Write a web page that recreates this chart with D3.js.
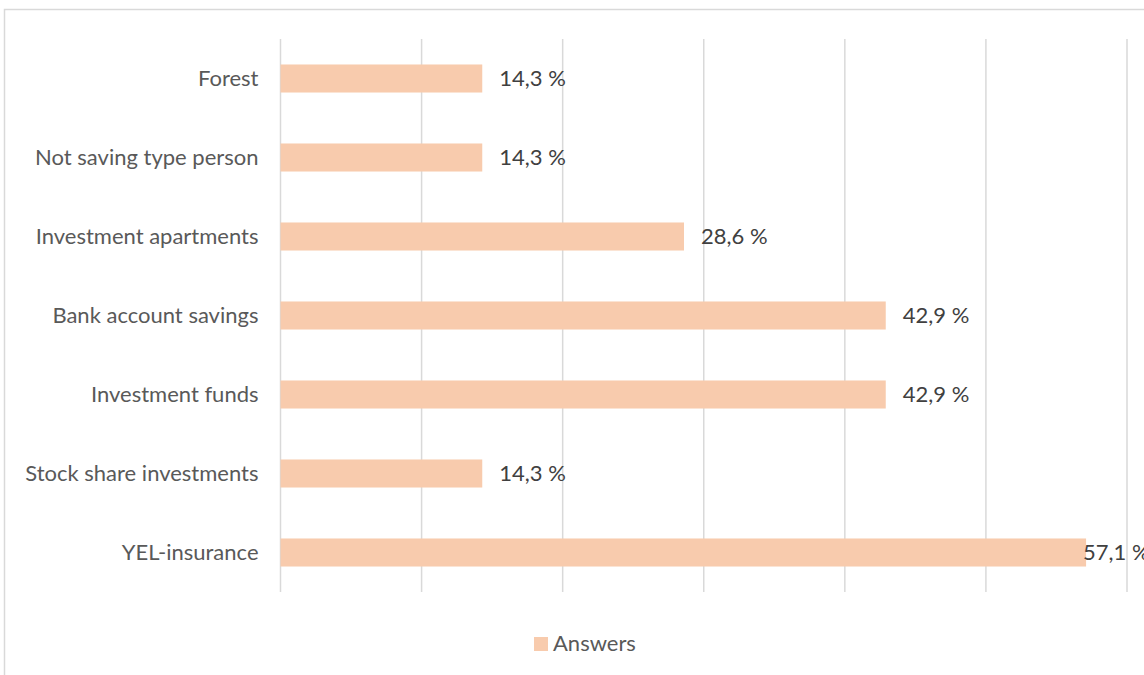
<!DOCTYPE html>
<html>
<head>
<meta charset="utf-8">
<script src="https://cdn.jsdelivr.net/npm/d3@7"></script>
<style>
  html, body { margin: 0; padding: 0; background: #fff; }
  svg { display: block; }
  text { font-family: Lato, "Open Sans", sans-serif; }
</style>
</head>
<body>
<svg id="chart" width="1144" height="675"></svg>
<script>
// Savings categories, top to bottom
const categories = [
  "Forest",
  "Not saving type person",
  "Investment apartments",
  "Bank account savings",
  "Investment funds",
  "Stock share investments",
  "YEL-insurance"
];
// Share of answers, percent
const answers = [14.3, 14.3, 28.6, 42.9, 42.9, 14.3, 57.1];
const gridTicks = [0, 10, 20, 30, 40, 50, 60];
const seriesName = "Answers";

const W = 1144, H = 675;
const FS = 22;
const svg = d3.select("#chart");

// Chart frame (runs off the right and bottom edges)
svg.append("rect")
  .attr("x", 4.5).attr("y", 9.5)
  .attr("width", W + 20).attr("height", H + 20)
  .attr("fill", "#fff").attr("stroke", "#d9d9d9").attr("stroke-width", 1.5);

const plot = { left: 280.5, right: 1127, top: 39, bottom: 592 };

const x = d3.scaleLinear().domain([0, 60]).range([plot.left, plot.right]);
const y = d3.scaleBand().domain(categories).range([plot.top, plot.bottom]).paddingInner(0.645).paddingOuter(0.3225);

// Vertical gridlines
svg.append("g").selectAll("line").data(gridTicks).join("line")
  .attr("x1", d => x(d)).attr("x2", d => x(d))
  .attr("y1", plot.top).attr("y2", plot.bottom)
  .attr("stroke", "#d9d9d9").attr("stroke-width", 1.5);

// Bars
svg.append("g").selectAll("rect").data(categories).join("rect")
  .attr("x", x(0))
  .attr("y", d => y(d))
  .attr("width", (d, i) => x(answers[i]) - x(0))
  .attr("height", y.bandwidth())
  .attr("fill", "#F8CBAD");

// Category labels
const yAxis = d3.axisLeft(y).tickSize(0).tickPadding(22);
const ya = svg.append("g").attr("transform", `translate(${plot.left},0)`).call(yAxis);
ya.select(".domain").remove();
ya.selectAll("text").attr("font-size", FS).attr("fill", "#595959")
  .style("font-family", "Lato, 'Open Sans', sans-serif");

// Value labels (a label that would run past the right edge is tucked against the bar end)
const fmt = v => v.toFixed(1).replace(".", ",") + " %";
svg.append("g").selectAll("text").data(categories).join("text")
  .attr("y", d => y(d) + y.bandwidth() / 2)
  .attr("dy", "0.35em")
  .attr("font-size", FS).attr("fill", "#404040")
  .text((d, i) => fmt(answers[i]))
  .each(function(d, i) {
    const t = d3.select(this);
    const w = this.getComputedTextLength();
    let px = x(answers[i]) + 17;
    if (px + w > W) px = x(answers[i]) - 3;
    t.attr("x", px);
  });

// Legend
const lg = svg.append("g");
lg.append("rect").attr("x", 534).attr("y", 637).attr("width", 14).attr("height", 14).attr("fill", "#F8CBAD");
lg.append("text").attr("x", 553).attr("y", 643).attr("dy", "0.35em")
  .attr("font-size", FS).attr("fill", "#595959").text(seriesName);
</script>
</body>
</html>
